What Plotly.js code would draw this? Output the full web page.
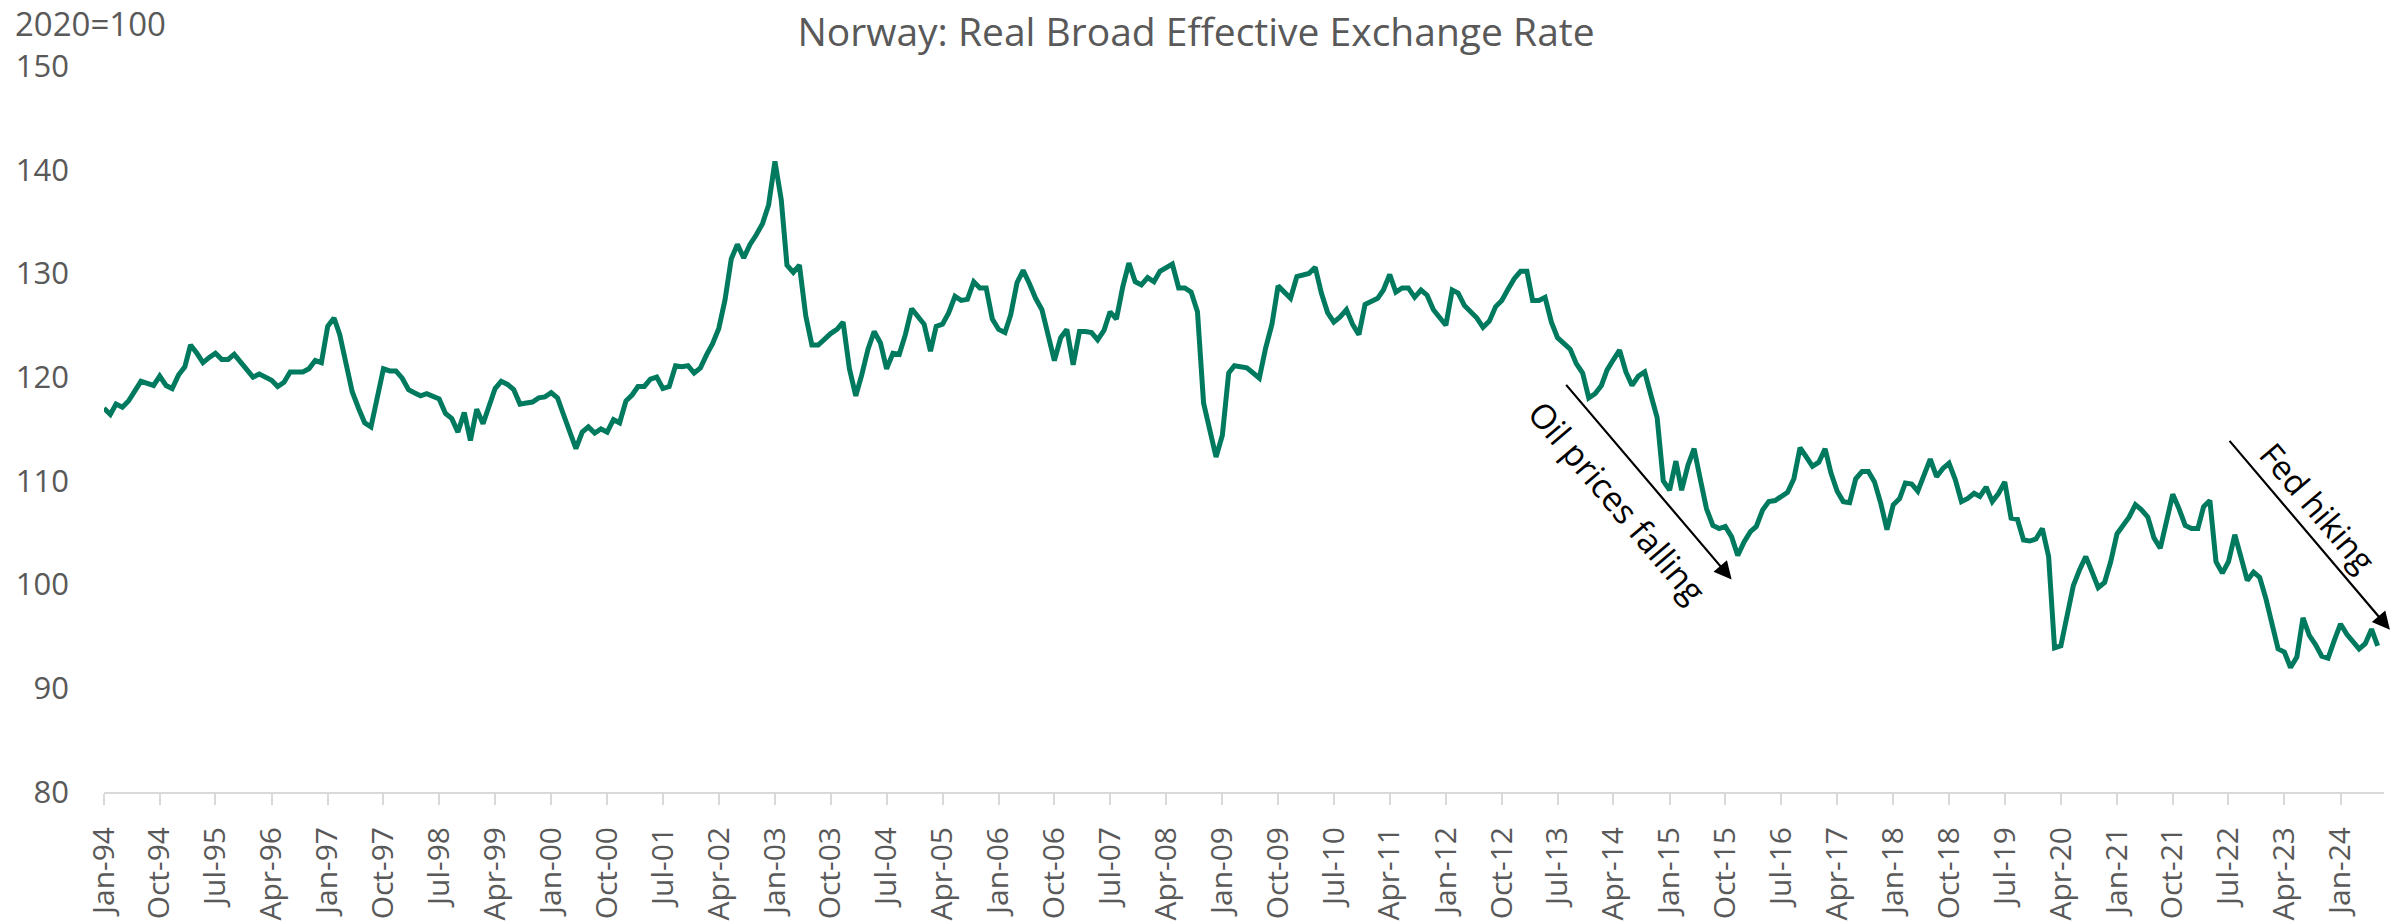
<!DOCTYPE html>
<html>
<head>
<meta charset="utf-8">
<script src="https://cdn.plot.ly/plotly-3.0.1.min.js"></script>
<style>html,body{margin:0;padding:0;background:#fff;}#chart{width:2392px;height:922px;}</style>
</head>
<body>
<div id="chart"></div>
<script>
// Monthly index values (2020=100), Jan-1994 .. Jul-2024
const startYear = 1994;
const v1994 = [117.0,116.4,117.4,117.1,117.7,118.6,119.6,119.4,119.2,120.1,119.2,118.9];
const v1995 = [120.2,121.0,123.1,122.3,121.4,121.9,122.3,121.7,121.7,122.2,121.4,120.7];
const v1996 = [120.0,120.3,120.0,119.7,119.1,119.5,120.5,120.5,120.5,120.8,121.6,121.4];
const v1997 = [124.9,125.7,124.1,121.3,118.6,117.0,115.6,115.2,118.0,120.8,120.6,120.6];
const v1998 = [119.9,118.8,118.5,118.2,118.4,118.2,117.9,116.5,116.0,114.7,116.6,113.9];
const v1999 = [116.9,115.5,117.2,118.9,119.6,119.3,118.8,117.4,117.5,117.6,118.0,118.1];
const v2000 = [118.5,118.0,116.4,114.7,113.1,114.7,115.2,114.6,115.0,114.7,115.9,115.6];
const v2001 = [117.7,118.3,119.1,119.1,119.8,120.0,118.9,119.1,121.1,121.0,121.1,120.4];
const v2002 = [120.9,122.2,123.2,124.7,127.4,131.4,132.8,131.5,132.8,133.7,134.8,136.6];
const v2003 = [140.8,137.1,130.8,130.1,130.8,125.9,123.1,123.1,123.7,124.2,124.6,125.3];
const v2004 = [120.8,118.2,120.2,122.7,124.4,123.3,120.8,122.3,122.2,124.1,126.6,125.8];
const v2005 = [125.1,122.5,124.9,125.1,126.2,127.8,127.4,127.5,129.2,128.6,128.6,125.6];
const v2006 = [124.6,124.3,126.0,129.1,130.3,129.0,127.6,126.5,124.1,121.6,123.8,124.6];
const v2007 = [121.2,124.4,124.4,124.3,123.6,124.5,126.3,125.6,128.7,131.0,129.2,128.9];
const v2008 = [129.6,129.2,130.2,130.5,130.9,128.6,128.6,128.2,126.3,117.5,115.0,112.3];
const v2009 = [114.4,120.4,121.1,121.0,120.9,120.4,119.9,122.8,125.1,128.8,128.1,127.6];
const v2010 = [129.7,129.9,130.0,130.6,128.1,126.2,125.3,125.8,126.5,125.1,124.1,127.0];
const v2011 = [127.3,127.6,128.4,129.9,128.2,128.6,128.6,127.7,128.4,127.9,126.5,125.7];
const v2012 = [125.0,128.4,128.1,126.9,126.3,125.7,124.8,125.4,126.8,127.4,128.5,129.5];
const v2013 = [130.2,130.2,127.4,127.4,127.7,125.3,123.8,123.3,122.7,121.3,120.4,118.0];
const v2014 = [118.4,119.2,120.7,121.7,122.6,120.5,119.2,120.1,120.5,118.3,116.1,110.0];
const v2015 = [109.1,111.9,109.1,111.5,113.1,110.1,107.3,105.7,105.4,105.6,104.6,102.8];
const v2016 = [104.1,105.1,105.6,107.2,108.0,108.1,108.5,108.9,110.2,113.2,112.3,111.4];
const v2017 = [111.8,113.1,110.8,109.0,108.0,107.9,110.2,110.9,110.9,109.9,107.8,105.3];
const v2018 = [107.7,108.3,109.8,109.7,109.0,110.5,112.1,110.4,111.2,111.7,110.1,108.0];
const v2019 = [108.3,108.8,108.5,109.4,108.0,108.8,109.9,106.4,106.3,104.3,104.2,104.4];
const v2020 = [105.4,102.7,93.9,94.1,96.8,99.9,101.4,102.7,101.2,99.7,100.2,102.2];
const v2021 = [104.9,105.8,106.5,107.7,107.2,106.5,104.5,103.5,106.2,108.7,107.3,105.7];
const v2022 = [105.4,105.4,107.5,108.1,102.2,101.1,102.2,104.8,102.6,100.4,101.2,100.7];
const v2023 = [98.6,96.1,93.8,93.5,92.0,93.0,96.8,95.1,94.2,93.1,92.9,94.6];
const v2024 = [96.2,95.2,94.5,93.8,94.3,95.7,94.1];

const yearly = [v1994,v1995,v1996,v1997,v1998,v1999,v2000,v2001,v2002,v2003,v2004,v2005,v2006,v2007,v2008,v2009,v2010,v2011,v2012,v2013,v2014,v2015,v2016,v2017,v2018,v2019,v2020,v2021,v2022,v2023,v2024];

const titleText = 'Norway: Real Broad Effective Exchange Rate';
const unitText = '2020=100';
const note1 = 'Oil prices falling';
const note2 = 'Fed hiking';

const dates = [], values = [];
yearly.forEach((arr, i) => {
  arr.forEach((v, j) => {
    const mm = String(j + 1).padStart(2, '0');
    dates.push((startYear + i) + '-' + mm + '-01');
    values.push(v);
  });
});

const FONT = 'Open Sans, Noto Sans, sans-serif';
const GREY = '#595959';

const trace = {
  x: dates, y: values, type: 'scatter', mode: 'lines',
  line: {color: '#007A5E', width: 5},
  hoverinfo: 'x+y'
};

const layout = {
  width: 2392, height: 922,
  margin: {l: 104, r: 8, t: 66, b: 130},
  paper_bgcolor: '#ffffff', plot_bgcolor: '#ffffff',
  showlegend: false,
  font: {family: FONT, color: GREY},
  title: {
    text: titleText, font: {family: FONT, size: 39, color: GREY},
    x: 0.5, xref: 'container', xanchor: 'center',
    y: 1 - 32/922, yref: 'container', yanchor: 'middle'
  },
  xaxis: {
    type: 'date', range: ['1994-01-01', '2024-08-01'],
    tick0: '1994-01-01', dtick: 'M9', tickformat: '%b-%y', tickangle: -90,
    ticks: 'outside', ticklen: 11, tickwidth: 2, tickcolor: '#d9d9d9',
    showline: true, linecolor: '#d9d9d9', linewidth: 2,
    showgrid: false, zeroline: false,
    tickfont: {family: FONT, size: 30, color: GREY},
    ticklabelstandoff: 10
  },
  yaxis: {
    range: [80, 150], dtick: 10, tick0: 80,
    showgrid: false, zeroline: false, showline: false, ticks: '',
    tickfont: {family: FONT, size: 31, color: GREY},
    ticklabelstandoff: 34
  },
  annotations: [
    {text: unitText, xref: 'paper', yref: 'paper', x: -0.04, y: 1 + 43/726,
     xanchor: 'left', yanchor: 'middle', showarrow: false,
     font: {family: FONT, size: 33, color: GREY}},
    {text: '', xref: 'x', yref: 'y', axref: 'x', ayref: 'y',
     x: '2015-11-01', y: 100.5, ax: '2013-08-06', ay: 119.4,
     showarrow: true, arrowhead: 2, arrowsize: 1.6, arrowwidth: 2.2, arrowcolor: '#000', standoff: 0},
    {text: note1, xref: 'x', yref: 'y', x: '2014-04-23', y: 108.0,
     showarrow: false, textangle: 49.6, font: {family: FONT, size: 34, color: '#000'}},
    {text: '', xref: 'x', yref: 'y', axref: 'x', ayref: 'y',
     x: '2024-08-30', y: 95.65, ax: '2022-06-30', ay: 114.0,
     showarrow: true, arrowhead: 2, arrowsize: 1.6, arrowwidth: 2.2, arrowcolor: '#000', standoff: 0},
    {text: note2, xref: 'x', yref: 'y', x: '2023-09-12', y: 107.4,
     showarrow: false, textangle: 49.6, font: {family: FONT, size: 33, color: '#000'}}
  ]
};

Plotly.newPlot('chart', [trace], layout, {displayModeBar: false, staticPlot: true});
</script>
</body>
</html>
